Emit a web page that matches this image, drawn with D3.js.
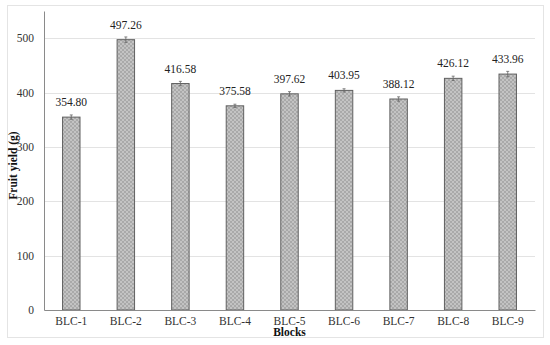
<!DOCTYPE html>
<html>
<head>
<meta charset="utf-8">
<script src="https://cdnjs.cloudflare.com/ajax/libs/d3/7.8.5/d3.min.js"></script>
<style>
  body { margin: 0; background: #fff; }
  svg text { font-family: "Liberation Serif", "Times New Roman", Times, "DejaVu Serif", serif; }
</style>
</head>
<body>
<svg id="chart" width="550" height="345"></svg>
<script>
var blocks = ["BLC-1", "BLC-2", "BLC-3", "BLC-4", "BLC-5", "BLC-6", "BLC-7", "BLC-8", "BLC-9"];
var yieldVals = [354.80, 497.26, 416.58, 375.58, 397.62, 403.95, 388.12, 426.12, 433.96];
var yieldErr = [4, 5, 4, 3, 4, 3, 4, 4, 5];
var yTicks = [0, 100, 200, 300, 400, 500];

var serif = '"Liberation Serif", "Times New Roman", Times, serif';
var svg = d3.select("#chart");
var margin = { left: 44, right: 15, top: 11, bottom: 35 };
var w = 550 - margin.left - margin.right;
var h = 345 - margin.top - margin.bottom;

// outer frame
svg.append("rect").attr("x", 7.5).attr("y", 5.5).attr("width", 536).attr("height", 332)
  .attr("fill", "#fff").attr("stroke", "#e4e4e4");

var defs = svg.append("defs");
var pat = defs.append("pattern").attr("id", "checks").attr("patternUnits", "userSpaceOnUse")
  .attr("width", 4).attr("height", 4);
pat.append("rect").attr("width", 4).attr("height", 4).attr("fill", "#c3c3c3");
pat.append("rect").attr("width", 2).attr("height", 2).attr("fill", "#a9a9a9");
pat.append("rect").attr("x", 2).attr("y", 2).attr("width", 2).attr("height", 2).attr("fill", "#a9a9a9");

var g = svg.append("g").attr("transform", "translate(" + margin.left + "," + margin.top + ")");

var x = d3.scaleBand().domain(blocks).range([0, w]).paddingInner(0.68).paddingOuter(0.34);
var y = d3.scaleLinear().domain([0, 550]).range([h, 0]);

// gridlines
g.selectAll(".grid").data(yTicks.filter(function(d) { return d > 0; })).enter()
  .append("line")
  .attr("x1", 0).attr("x2", w)
  .attr("y1", function(d) { return Math.round(y(d)) + 0.5; })
  .attr("y2", function(d) { return Math.round(y(d)) + 0.5; })
  .attr("stroke", "#e3e3e3").attr("stroke-width", 1);

// bars
g.selectAll(".bar").data(blocks).enter().append("rect")
  .attr("x", function(d) { return x(d); })
  .attr("y", function(d, i) { return y(yieldVals[i]); })
  .attr("width", x.bandwidth())
  .attr("height", function(d, i) { return h - y(yieldVals[i]); })
  .attr("fill", "url(#checks)").attr("stroke", "#606060").attr("stroke-width", 1);

// error bars
var eb = g.selectAll(".err").data(blocks).enter().append("g")
  .attr("transform", function(d) { return "translate(" + (x(d) + x.bandwidth() / 2) + ",0)"; });
eb.append("line")
  .attr("y1", function(d, i) { return y(yieldVals[i] - yieldErr[i]); })
  .attr("y2", function(d, i) { return y(yieldVals[i] + yieldErr[i]); })
  .attr("stroke", "#666").attr("stroke-width", 0.8);
eb.append("line").attr("x1", -1.5).attr("x2", 1.5)
  .attr("y1", function(d, i) { return y(yieldVals[i] + yieldErr[i]); })
  .attr("y2", function(d, i) { return y(yieldVals[i] + yieldErr[i]); })
  .attr("stroke", "#666").attr("stroke-width", 0.8);
eb.append("line").attr("x1", -1.5).attr("x2", 1.5)
  .attr("y1", function(d, i) { return y(yieldVals[i] - yieldErr[i]); })
  .attr("y2", function(d, i) { return y(yieldVals[i] - yieldErr[i]); })
  .attr("stroke", "#666").attr("stroke-width", 0.8);

// value labels
g.selectAll(".lbl").data(blocks).enter().append("text")
  .attr("x", function(d) { return x(d) + x.bandwidth() / 2; })
  .attr("y", function(d, i) { return y(yieldVals[i]) - 11; })
  .attr("text-anchor", "middle").attr("font-size", 11.5).attr("fill", "#222")
  .style("font-family", serif)
  .text(function(d, i) { return yieldVals[i].toFixed(2); });

// axes
var yAxis = g.append("g").call(d3.axisLeft(y).tickValues(yTicks).tickSize(0).tickPadding(10));
yAxis.attr("font-family", null);
yAxis.select(".domain").attr("stroke", "#8a8a8a");
yAxis.selectAll("text").attr("font-size", 11.5).attr("fill", "#333")
  .style("font-family", serif);

var xAxis = g.append("g").attr("transform", "translate(0," + h + ")")
  .call(d3.axisBottom(x).tickSize(0).tickPadding(7));
xAxis.attr("font-family", null);
xAxis.select(".domain").attr("stroke", "#8a8a8a");
xAxis.selectAll("text").attr("font-size", 11.5).attr("fill", "#333")
  .style("font-family", serif);

// titles
svg.append("text").attr("x", margin.left + w / 2).attr("y", 336)
  .attr("text-anchor", "middle").attr("font-size", 11.5).attr("font-weight", "bold")
  .attr("fill", "#111").style("font-family", serif).text("Blocks");
svg.append("text").attr("transform", "translate(17," + (margin.top + h / 2 + 5) + ") rotate(-90)")
  .attr("text-anchor", "middle").attr("font-size", 11.5).attr("font-weight", "bold")
  .attr("fill", "#111").style("font-family", serif).text("Fruit yield (g)");
</script>
</body>
</html>
